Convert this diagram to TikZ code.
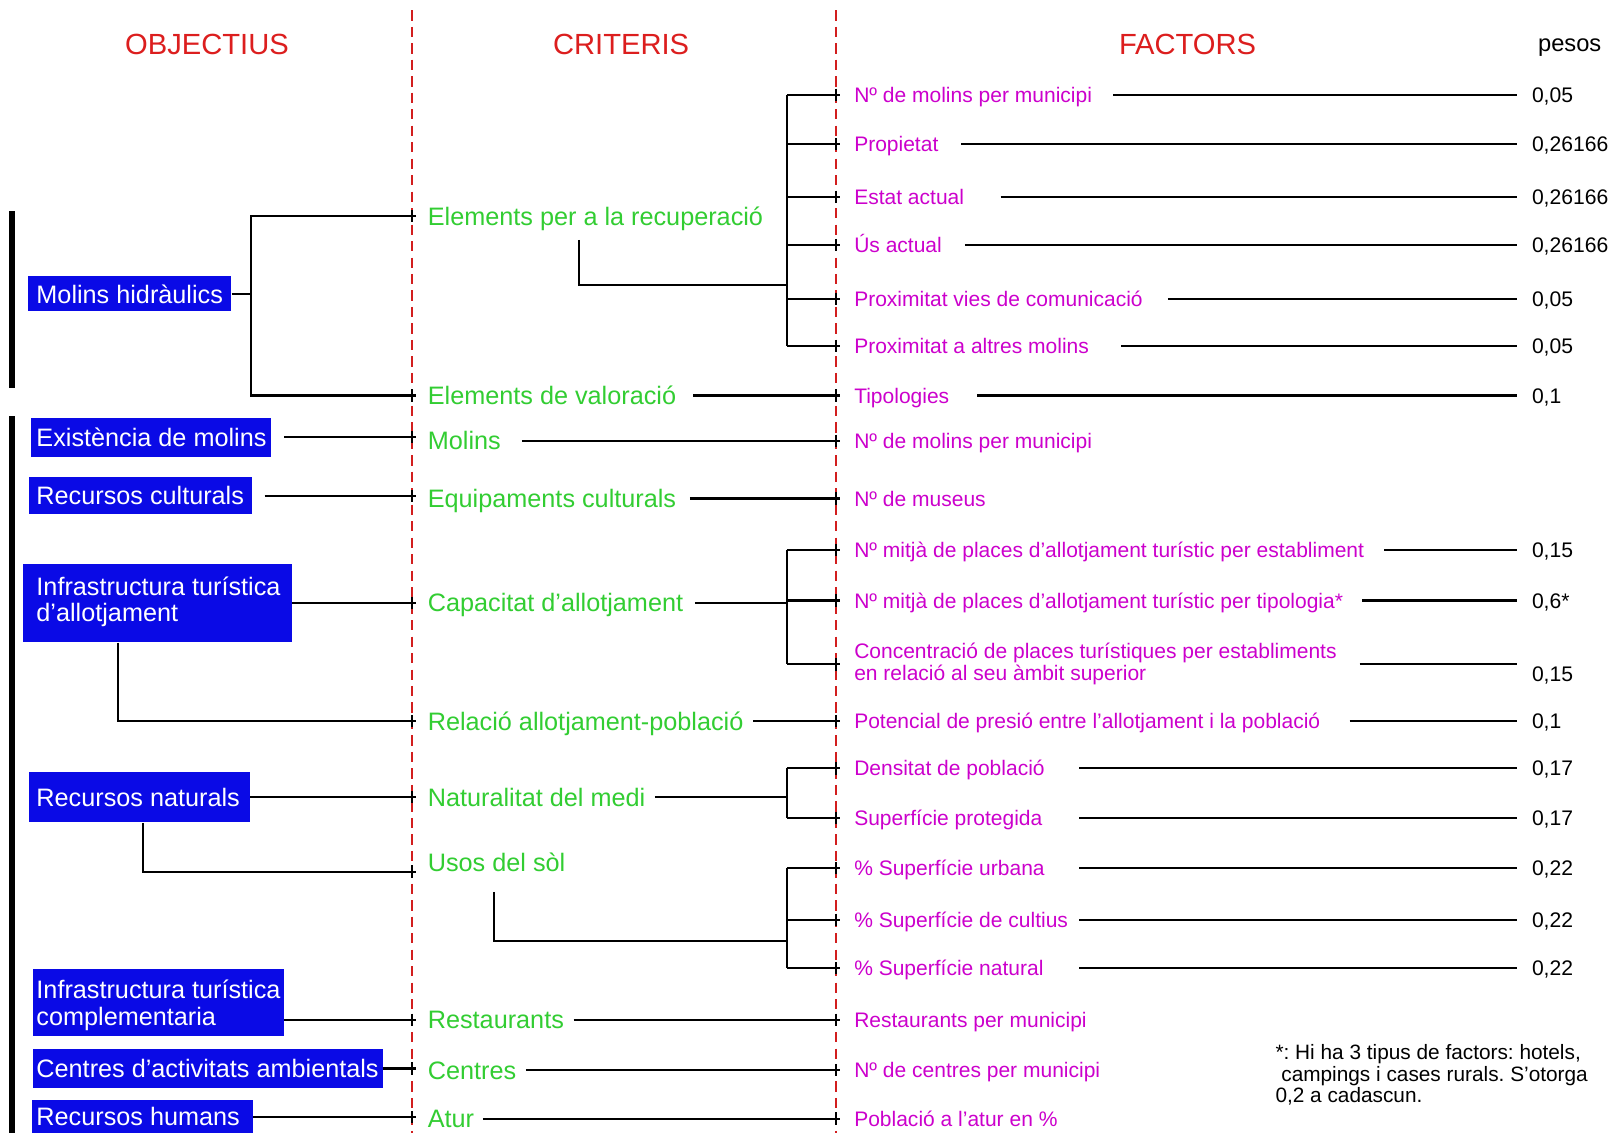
\documentclass[tikz,border=0pt]{standalone}
\usepackage{fontspec}
\setmainfont{Liberation Sans}
\frenchspacing
\definecolor{hdrred}{RGB}{220,30,30}
\definecolor{dashcol}{RGB}{210,30,30}
\definecolor{critgreen}{RGB}{50,205,50}
\definecolor{facmag}{RGB}{204,0,204}
\definecolor{objblue}{RGB}{10,10,230}
\newcommand{\tickat}[1]{\draw[conn] (#1) ++(0,-6) -- ++(0,12);}
\begin{document}
\begin{tikzpicture}[x=0.5pt,y=-0.5pt,
  conn/.style={line width=1pt, black},
  dashline/.style={line width=1pt, dashcol, dash pattern=on 5pt off 3pt},
  bar/.style={line width=3pt, black},
  hdr/.style={font=\fontsize{14.15pt}{16pt}\selectfont, text=hdrred, inner sep=0pt},
  pes/.style={font=\fontsize{11.5pt}{12pt}\selectfont, inner sep=0pt},
  crit/.style={font=\fontsize{12.25pt}{13pt}\selectfont, text=critgreen, inner sep=0pt, anchor=west, text height=8.8pt, text depth=0pt},
  fac/.style={font=\fontsize{10.2pt}{10.8pt}\selectfont, text=facmag, inner sep=0pt, anchor=west, text height=7.3pt, text depth=0pt},
  factwo/.style={font=\fontsize{10.2pt}{10.6pt}\selectfont, text=facmag, inner sep=0pt, anchor=west, align=left},
  wt/.style={font=\fontsize{10.25pt}{11pt}\selectfont, inner sep=0pt, anchor=west, text height=7.3pt, text depth=0pt},
  obox/.style={fill=objblue, inner sep=0pt, anchor=north west},
  otext/.style={font=\fontsize{12.25pt}{13pt}\selectfont, text=white, inner sep=0pt, anchor=west, align=left},
  otextone/.style={otext, text height=8.8pt, text depth=0pt},
  foot/.style={font=\fontsize{10.1pt}{9.4pt}\selectfont, inner sep=0pt, align=left},
]
\useasboundingbox (0,0) rectangle (1568,1100);
\fill[white] (0,0) rectangle (1568,1100);

% helper coordinates
\coordinate (D1t) at (400,10); \coordinate (D1b) at (400,1100);
\coordinate (D2t) at (812,10); \coordinate (D2b) at (812,1100);
\coordinate (D1) at (400,0); \coordinate (D2) at (812,0);
\coordinate (D1p) at (404,0); \coordinate (D2p) at (816,0);
\coordinate (BR) at (764,0); \coordinate (JM) at (244,0);
\coordinate (V4) at (115,0); \coordinate (V5) at (139,0);
\coordinate (WL) at (1473,0); \coordinate (WS) at (1048,0);
\coordinate (TX) at (35,0);

% headers
\node[hdr] (h1) at (201,43) {OBJECTIUS};
\node[hdr] (h2) at (603,43) {CRITERIS};
\node[hdr] (h3) at (1153,43) {FACTORS};
\node[pes] (h4) at (1524,46) {pesos};

% dashed separators
\draw[dashline] (D1t) -- (D1b);
\draw[dashline] (D2t) -- (D2b);

% left bars
\coordinate (b1t) at (12,205); \coordinate (b1b) at (12,377);
\coordinate (b2t) at (12,404); \coordinate (b2b) at (12,1100);
\draw[bar] (b1t) -- (b1b);
\draw[bar] (b2t) -- (b2b);

% objectives
\node[obox, minimum width=98.5pt, minimum height=17pt] (o1) at (27,268) {};
\node[otextone] (t1) at (o1.west -| TX) {Molins hidràulics};
\node[obox, minimum width=116.5pt, minimum height=19pt] (o2) at (30,405) {};
\node[otextone] (t2) at (o2.west -| TX) {Existència de molins};
\node[obox, minimum width=108pt, minimum height=18pt] (o3) at (28,463) {};
\node[otextone] (t3) at (o3.west -| TX) {Recursos culturals};
\node[obox, minimum width=130.5pt, minimum height=38pt] (o4) at (22,547) {};
\node[otext, yshift=0.5pt] (t4) at (o4.west -| TX) {Infrastructura turística\\d’allotjament};
\node[obox, minimum width=107pt, minimum height=24.5pt] (o5) at (28,749) {};
\node[otextone] (t5) at (o5.west -| TX) {Recursos naturals};
\node[obox, minimum width=121.5pt, minimum height=32.5pt] (o6) at (32,940) {};
\node[otext, yshift=-1.5pt] (t6) at (o6.west -| TX) {Infrastructura turística\\complementaria};
\node[obox, minimum width=169.5pt, minimum height=19pt] (o7) at (32,1018) {};
\node[otextone] (t7) at (o7.west -| TX) {Centres d’activitats ambientals};
\node[obox, minimum width=107pt, minimum height=16pt] (o8) at (31,1068) {};
\node[otextone] (t8) at (o8.west -| TX) {Recursos humans};

% criteria
\node[crit] (c1) at (415,210) {Elements per a la recuperació};
\node[crit] (c2) at (415,384) {Elements de valoració};
\node[crit] (c3) at (415,428) {Molins};
\node[crit] (c4) at (415,484) {Equipaments culturals};
\node[crit] (c5) at (415,585) {Capacitat d’allotjament};
\node[crit] (c6) at (415,700) {Relació allotjament-població};
\node[crit] (c7) at (415,774) {Naturalitat del medi};
\node[crit] (c8) at (415,837) {Usos del sòl};
\node[crit] (c9) at (415,990) {Restaurants};
\node[crit] (c10) at (415,1039) {Centres};
\node[crit] (c11) at (415,1086) {Atur};

% factors
\node[fac] (f1) at (829,92) {Nº de molins per municipi};
\node[fac] (f2) at (829,140) {Propietat};
\node[fac] (f3) at (829,191) {Estat actual};
\node[fac] (f4) at (829,238) {Ús actual};
\node[fac] (f5) at (829,290) {Proximitat vies de comunicació};
\node[fac] (f6) at (829,336) {Proximitat a altres molins};
\node[fac] (f7) at (829,384) {Tipologies};
\node[fac] (f8) at (829,428) {Nº de molins per municipi};
\node[fac] (f9) at (829,484) {Nº de museus};
\node[fac] (f10) at (829,534) {Nº mitjà de places d’allotjament turístic per establiment};
\node[fac] (f11) at (829,583) {Nº mitjà de places d’allotjament turístic per tipologia*};
\node[factwo] (f12) at (829,645) {Concentració de places turístiques per establiments\\en relació al seu àmbit superior};
\node[fac] (f13) at (829,700) {Potencial de presió entre l’allotjament i la població};
\node[fac] (f14) at (829,746) {Densitat de població};
\node[fac] (f15) at (829,794) {Superfície protegida};
\node[fac] (f16) at (829,843) {\% Superfície urbana};
\node[fac] (f17) at (829,893) {\% Superfície de cultius};
\node[fac] (f18) at (829,940) {\% Superfície natural};
\node[fac] (f19) at (829,990) {Restaurants per municipi};
\node[fac] (f20) at (829,1039) {Nº de centres per municipi};
\node[fac] (f21) at (829,1086) {Població a l’atur en \%};

% weights
\node[wt] (w1) at (1487,92) {0,05};
\node[wt] (w2) at (1487,140) {0,26166};
\node[wt] (w3) at (1487,191) {0,26166};
\node[wt] (w4) at (1487,238) {0,26166};
\node[wt] (w5) at (1487,290) {0,05};
\node[wt] (w6) at (1487,336) {0,05};
\node[wt] (w7) at (1487,384) {0,1};
\node[wt] (w10) at (1487,534) {0,15};
\node[wt] (w11) at (1487,583) {0,6*};
\node[wt] (w12) at (1487,654) {0,15};
\node[wt] (w13) at (1487,700) {0,1};
\node[wt] (w14) at (1487,746) {0,17};
\node[wt] (w15) at (1487,794) {0,17};
\node[wt] (w16) at (1487,843) {0,22};
\node[wt] (w17) at (1487,893) {0,22};
\node[wt] (w18) at (1487,940) {0,22};

% footnote
\node[foot, anchor=north west] (fn) at (1238,1014) {*: Hi ha 3 tipus de factors: hotels,\\\hspace*{0.28em}campings i cases rurals. S’otorga\\0,2 a cadascun.};

% factor -> weight lines
\draw[conn] ([xshift=10pt]f1.east) -- (w1.west -| WL);
\draw[conn] ([xshift=11pt]f2.east) -- (w2.west -| WL);
\draw[conn] ([xshift=17.5pt]f3.east) -- (w3.west -| WL);
\draw[conn] ([xshift=11pt]f4.east) -- (w4.west -| WL);
\draw[conn] ([xshift=12pt]f5.east) -- (w5.west -| WL);
\draw[conn] ([xshift=15.5pt]f6.east) -- (w6.west -| WL);
\draw[conn] ([xshift=13.5pt]f7.east) -- (w7.west -| WL);
\draw[conn] ([xshift=9.5pt]f10.east) -- (w10.west -| WL);
\draw[conn] ([xshift=9pt]f11.east) -- (w11.west -| WL);
\draw[conn] ([xshift=11pt]f12.east) -- (f12.east -| WL);
\draw[conn] ([xshift=14pt]f13.east) -- (w13.west -| WL);
\draw[conn] (f14.east -| WS) -- (w14.west -| WL);
\draw[conn] (f15.east -| WS) -- (w15.west -| WL);
\draw[conn] (f16.east -| WS) -- (w16.west -| WL);
\draw[conn] (f17.east -| WS) -- (w17.west -| WL);
\draw[conn] (f18.east -| WS) -- (w18.west -| WL);

% objectives -> criteria
\draw[conn] (o1.east) -- (o1.east -| JM);
\draw[conn] (c1.west -| D1p) -- (c1.west -| JM) -- (c2.west -| JM) -- (c2.west -| D1p);
\tickat{c1.west -| D1} \tickat{c2.west -| D1}
\draw[conn] ([xshift=6pt]o2.east) -- (o2.east -| D1p); \tickat{o2.east -| D1}
\draw[conn] ([xshift=6pt]o3.east) -- (o3.east -| D1p); \tickat{o3.east -| D1}
\draw[conn] (o4.east) -- (o4.east -| D1p); \tickat{o4.east -| D1}
\draw[conn] (o4.south -| V4) |- (c6.west -| D1p); \tickat{c6.west -| D1}
\draw[conn] (o5.east) -- (o5.east -| D1p); \tickat{o5.east -| D1}
\draw[conn] (o5.south -| V5) |- (c8.south -| D1p); \tickat{c8.south -| D1}
\draw[conn] (o6.east |- c9.west) -- (c9.west -| D1p); \tickat{c9.west -| D1}
\draw[conn] (o7.east) -- (o7.east -| D1p); \tickat{o7.east -| D1}
\draw[conn] (o8.east) -- (o8.east -| D1p); \tickat{o8.east -| D1}

% criteria -> factors
\coordinate (ua) at (562,233); \coordinate (BRA) at (764,277);
\draw[conn] (ua) |- (BRA);
\draw[conn] (f1.west -| BR) -- (f6.west -| BR);
\foreach \i in {1,...,6} {
  \draw[conn] (f\i.west -| BR) -- (f\i.west -| D2p);
  \tickat{f\i.west -| D2}
}
\draw[conn] ([xshift=8pt]c2.east) -- (f7.west -| D2p); \tickat{f7.west -| D2}
\draw[conn] ([xshift=10pt]c3.east) -- (f8.west -| D2p); \tickat{f8.west -| D2}
\draw[conn] ([xshift=6.5pt]c4.east) -- (f9.west -| D2p); \tickat{f9.west -| D2}
\draw[conn] ([xshift=5.5pt]c5.east) -- (c5.east -| BR);
\draw[conn] (f10.west -| BR) -- (f12.west -| BR);
\foreach \i in {10,11,12} {
  \draw[conn] (f\i.west -| BR) -- (f\i.west -| D2p);
  \tickat{f\i.west -| D2}
}
\draw[conn] ([xshift=4.5pt]c6.east) -- (f13.west -| D2p); \tickat{f13.west -| D2}
\draw[conn] ([xshift=4.5pt]c7.east) -- (c7.east -| BR);
\draw[conn] (f14.west -| BR) -- (f15.west -| BR);
\foreach \i in {14,15} {
  \draw[conn] (f\i.west -| BR) -- (f\i.west -| D2p);
  \tickat{f\i.west -| D2}
}
\coordinate (ub) at (480,866); \coordinate (BRB) at (764,914);
\draw[conn] (ub) |- (BRB);
\draw[conn] (f16.west -| BR) -- (f18.west -| BR);
\foreach \i in {16,17,18} {
  \draw[conn] (f\i.west -| BR) -- (f\i.west -| D2p);
  \tickat{f\i.west -| D2}
}
\draw[conn] ([xshift=4.5pt]c9.east) -- (f19.west -| D2p); \tickat{f19.west -| D2}
\draw[conn] ([xshift=4.5pt]c10.east) -- (f20.west -| D2p); \tickat{f20.west -| D2}
\draw[conn] ([xshift=4pt]c11.east) -- (f21.west -| D2p); \tickat{f21.west -| D2}
\end{tikzpicture}
\end{document}
